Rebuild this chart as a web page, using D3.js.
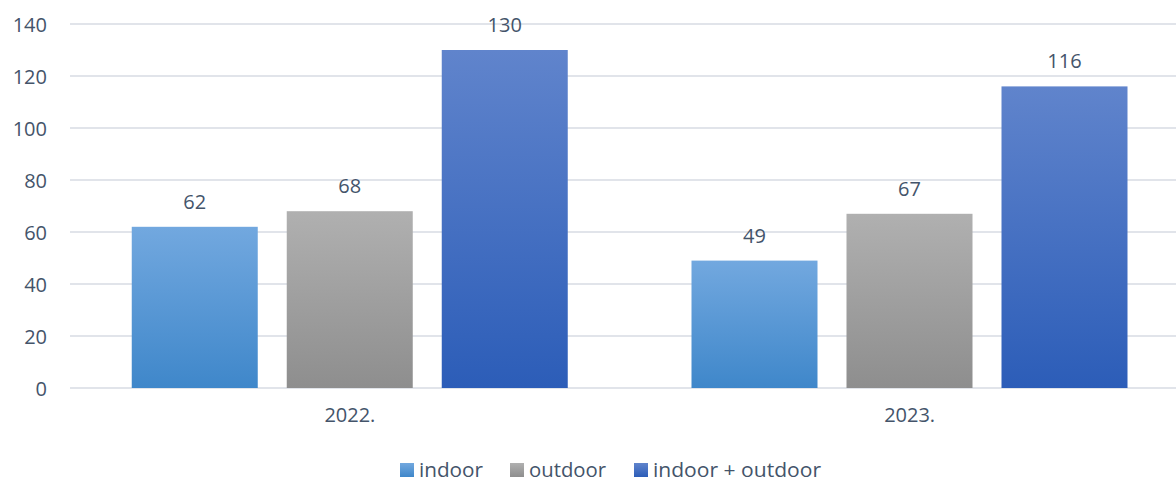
<!DOCTYPE html>
<html><head><meta charset="utf-8">
<script src="https://cdn.jsdelivr.net/npm/d3@7/dist/d3.min.js"></script>
<style>body{margin:0;background:#fff}svg{display:block}text{font-family:"Open Sans","Noto Sans",sans-serif}</style>
</head><body>
<script>
const categories = ["2022.", "2023."];
const seriesNames = ["indoor", "outdoor", "indoor + outdoor"];
const indoor = [62, 49];
const outdoor = [68, 67];
const combined = [130, 116];
const yTicks = [0, 20, 40, 60, 80, 100, 120, 140];

const W = 1176, H = 482;
const FS = 20;
const svg = d3.select("body").append("svg").attr("width", W).attr("height", H);
const defs = svg.append("defs");
const grads = [["#72A8DF", "#3F87CA"], ["#B0B0B0", "#8E8E8E"], ["#6084CC", "#2C5DB8"]];
grads.forEach((g, i) => {
  const lg = defs.append("linearGradient").attr("id", "g" + i).attr("x1", 0).attr("y1", 0).attr("x2", 0).attr("y2", 1);
  lg.append("stop").attr("offset", "0%").attr("stop-color", g[0]);
  lg.append("stop").attr("offset", "100%").attr("stop-color", g[1]);
});

const x0 = d3.scaleBand().domain(categories).range([70, 1189.5]).paddingInner(0).paddingOuter(0);
const x1 = d3.scaleBand().domain(seriesNames).range([61.75, 559.5 - 61.75]).paddingInner(29 / 155).paddingOuter(0);
const y = d3.scaleLinear().domain([0, 140]).range([388, 24]);

const textColor = "#44546A";
svg.append("g").selectAll("line").data(yTicks).join("line")
  .attr("x1", 70).attr("x2", W).attr("y1", d => y(d)).attr("y2", d => y(d))
  .attr("stroke", "#E1E4EA").attr("stroke-width", 2);
const yAxis = d3.axisLeft(y).tickValues(yTicks).tickSize(0).tickPadding(0);
const ya = svg.append("g").attr("transform", "translate(47,0)").call(yAxis);
ya.select(".domain").remove();
ya.selectAll("text").attr("fill", textColor).attr("font-size", FS).attr("dy", "0.35em");

const seriesData = [indoor, outdoor, combined];
const groups = svg.append("g").selectAll("g").data(categories).join("g")
  .attr("transform", d => `translate(${x0(d)},0)`);
groups.each(function(cat, ci) {
  const g = d3.select(this);
  seriesNames.forEach((s, si) => {
    const v = seriesData[si][ci];
    g.append("rect").attr("x", x1(s)).attr("width", x1.bandwidth())
      .attr("y", y(v)).attr("height", y(0) - y(v)).attr("fill", `url(#g${si})`);
    g.append("text").attr("x", x1(s) + x1.bandwidth() / 2).attr("y", y(v) - 18)
      .attr("text-anchor", "middle").attr("font-size", FS).attr("fill", textColor).text(v);
  });
});
const xAxis = d3.axisBottom(x0).tickSize(0).tickPadding(0);
const xa = svg.append("g").attr("transform", "translate(0,408)").call(xAxis);
xa.select(".domain").remove();
xa.selectAll("text").attr("fill", textColor).attr("font-size", FS).attr("dy", "0.71em");

const legX = [400, 510, 634];
const leg = svg.append("g").selectAll("g").data(seriesNames).join("g")
  .attr("transform", (d, i) => `translate(${legX[i]},463)`);
leg.append("rect").attr("width", 14).attr("height", 14).attr("fill", (d, i) => `url(#g${i})`);
leg.append("text").attr("x", 19).attr("y", 7).attr("dy", "0.35em").attr("font-size", FS)
  .attr("textLength", (d, i) => [64, 77, 168][i]).attr("lengthAdjust", "spacingAndGlyphs")
  .attr("fill", textColor).text(d => d);
</script>
</body></html>
